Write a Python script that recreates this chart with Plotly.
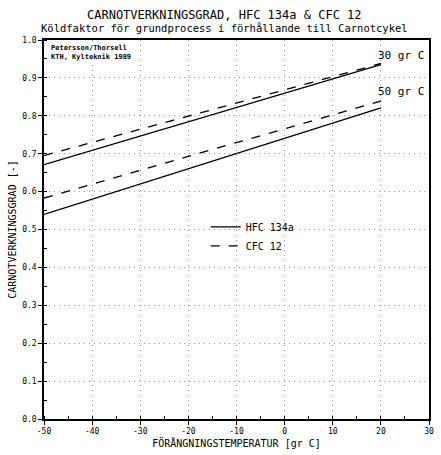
import plotly.graph_objects as go

# Data
x_temp = [-50, 20]
hfc_30 = [0.671, 0.935]
cfc_30 = [0.695, 0.938]
hfc_50 = [0.540, 0.821]
cfc_50 = [0.583, 0.839]
x_ticks = [-50, -40, -30, -20, -10, 0, 10, 20, 30]
y_ticks = [0.0, 0.1, 0.2, 0.3, 0.4, 0.5, 0.6, 0.7, 0.8, 0.9, 1.0]

FONT = "DejaVu Sans Mono"
fig = go.Figure()
fig.add_trace(go.Scatter(x=x_temp, y=hfc_30, mode="lines", name="HFC 134a",
                         line=dict(color="black", width=1.3)))
fig.add_trace(go.Scatter(x=x_temp, y=cfc_30, mode="lines", name="CFC 12",
                         line=dict(color="black", width=1.3, dash="dash")))
fig.add_trace(go.Scatter(x=x_temp, y=hfc_50, mode="lines", showlegend=False,
                         line=dict(color="black", width=1.3)))
fig.add_trace(go.Scatter(x=x_temp, y=cfc_50, mode="lines", showlegend=False,
                         line=dict(color="black", width=1.3, dash="dash")))

fig.add_annotation(x=19, y=0.958, text="30 gr C", showarrow=False, xanchor="left",
                   yanchor="middle", font=dict(family=FONT, size=11, color="black"))
fig.add_annotation(x=19, y=0.865, text="50 gr C", showarrow=False, xanchor="left",
                   yanchor="middle", font=dict(family=FONT, size=11, color="black"))
fig.add_annotation(xref="paper", yref="paper", x=0.012, y=0.995, xanchor="left", yanchor="top",
                   text="<b>Petersson/Thorsell<br>KTH, Kylteknik 1989</b>", showarrow=False,
                   align="left", bgcolor="white",
                   font=dict(family=FONT, size=7, color="black"))
fig.add_annotation(xref="paper", yref="paper", x=0.47, y=1.0, yshift=25, xanchor="center",
                   yanchor="middle", showarrow=False, text="CARNOTVERKNINGSGRAD, HFC 134a &amp; CFC 12",
                   font=dict(family=FONT, size=12, color="black"))
fig.add_annotation(xref="paper", yref="paper", x=0.47, y=1.0, yshift=12, xanchor="center",
                   yanchor="middle", showarrow=False,
                   text="Köldfaktor för grundprocess i förhållande till Carnotcykel",
                   font=dict(family=FONT, size=10.5, color="black"))

fig.update_layout(
    width=441, height=455,
    margin=dict(l=44, r=7, t=40, b=27),
    paper_bgcolor="white", plot_bgcolor="white",
    font=dict(family=FONT, color="black"),
    legend=dict(x=0.42, y=0.545, xanchor="left", yanchor="top", bgcolor="rgba(255,255,255,0)",
                font=dict(family=FONT, size=10, color="black"), tracegroupgap=0,
                itemwidth=30),
    showlegend=True,
)
fig.update_xaxes(range=[-50, 30], tickvals=x_ticks, ticktext=[str(v) for v in x_ticks],
                 showgrid=True, gridcolor="#999", griddash="1px,4px", gridwidth=1,
                 showline=True, linecolor="black", linewidth=1.5, mirror=True,
                 ticks="outside", ticklen=4, tickcolor="black",
                 minor=dict(dtick=5, ticks="inside", ticklen=3, tickcolor="black", showgrid=False),
                 tickfont=dict(family=FONT, size=8, color="black"),
                 title=dict(text="FÖRÅNGNINGSTEMPERATUR [gr C]", standoff=5,
                            font=dict(family=FONT, size=10, color="black")),
                 zeroline=False)
fig.update_yaxes(range=[0, 1.0], tickvals=y_ticks, tickformat=".1f",
                 showgrid=True, gridcolor="#999", griddash="1px,4px", gridwidth=1,
                 showline=True, linecolor="black", linewidth=1.5, mirror=True,
                 ticks="outside", ticklen=4, tickcolor="black",
                 minor=dict(dtick=0.05, ticks="inside", ticklen=3, tickcolor="black", showgrid=False),
                 tickfont=dict(family=FONT, size=8, color="black"),
                 title=dict(text="CARNOTVERKNINGSGRAD [-]", standoff=4,
                            font=dict(family=FONT, size=10, color="black")),
                 zeroline=False)

fig.write_html("out.html")
